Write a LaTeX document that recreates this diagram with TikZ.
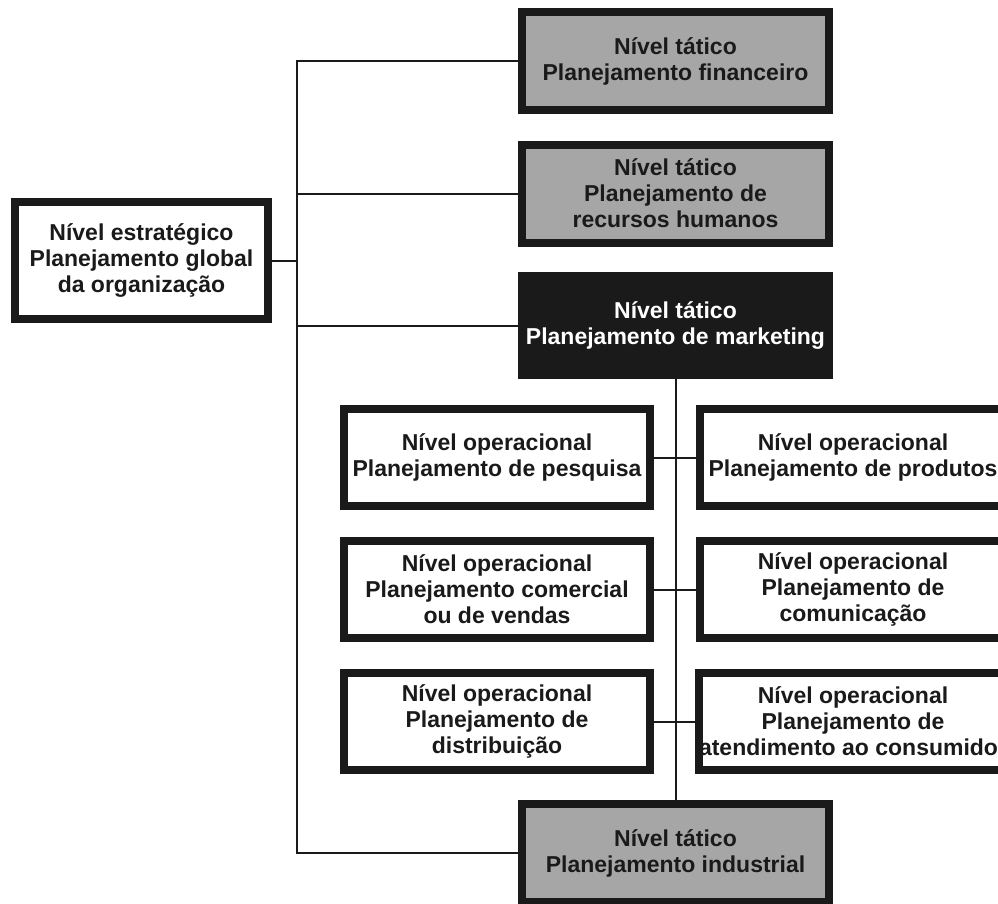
\documentclass[tikz,border=0pt]{standalone}
\usepackage{fontspec}
\setmainfont{Liberation Sans}[BoldFont={Liberation Sans Bold}]
\definecolor{ink}{HTML}{1A1A1A}
\definecolor{graybox}{HTML}{A6A6A6}
\tikzset{
  base/.style={draw=ink, line width=8pt, align=center, inner sep=0pt, text=ink,
    font=\fontsize{23}{26}\selectfont\bfseries},
  strat/.style={base, fill=white, minimum width=253pt, minimum height=117pt},
  tact/.style={base, fill=graybox, minimum width=307pt, minimum height=98pt},
  mkt/.style={base, fill=ink, text=white, minimum width=307pt, minimum height=99pt},
  oper/.style={base, fill=white, minimum width=306pt, minimum height=97pt},
  link/.style={draw=ink, line width=2pt},
  rim/.style={draw=ink, line width=8pt}
}
\begin{document}
\begin{tikzpicture}[x=1pt, y=-1pt]
\clip (0,0) rectangle (998,903);
\fill[white] (0,0) rectangle (998,903);
\coordinate (tx) at (297,0);

\node[strat] (strat) at (141.5,260.5) {Nível estratégico\\Planejamento global\\da organização};

\node[tact] (fin) at (675.5,61) {Nível tático\\Planejamento financeiro};
\node[tact] (rh)  at (675.5,193.5) {Nível tático\\Planejamento de\\recursos humanos};
\node[mkt]  (mkt) at (675.5,325.5) {Nível tático\\Planejamento de marketing};
\node[tact] (ind) at (675.5,853) {Nível tático\\Planejamento industrial};

\node[oper] (o1) at (497,457.5) {Nível operacional\\Planejamento de pesquisa};
\node[oper] (o2) at (853,457.5) {Nível operacional\\Planejamento de produtos};
\node[oper] (o3) at (497,589.5) {Nível operacional\\Planejamento comercial\\ou de vendas};
\node[oper] (o4) at (853,589.5) {Nível operacional\\Planejamento de\\comunicação};
\node[oper] (o5) at (497,721.5) {Nível operacional\\Planejamento de\\distribuição};
\node[oper] (o6) at (853,721.5) {Nível operacional\\Planejamento de\\atendimento ao consumidor};
\draw[rim] ([shift={(4,4)}]o6.north west) rectangle ([shift={(-4,-4)}]o6.south east);

% trunk from strategic level
\draw[link] (fin.west) -- (fin.west -| tx) -- (ind.west -| tx) -- (ind.west);
\draw[link] (strat.east) -- (strat.east -| tx);
\draw[link] (rh.west -| tx) -- (rh.west);
\draw[link] (mkt.west -| tx) -- (mkt.west);

% marketing spine
\draw[link] (mkt.south) -- (ind.north);
\draw[link] (o1.east) -- (o2.west);
\draw[link] (o3.east) -- (o4.west);
\draw[link] (o5.east) -- (o6.west);
\end{tikzpicture}
\end{document}
